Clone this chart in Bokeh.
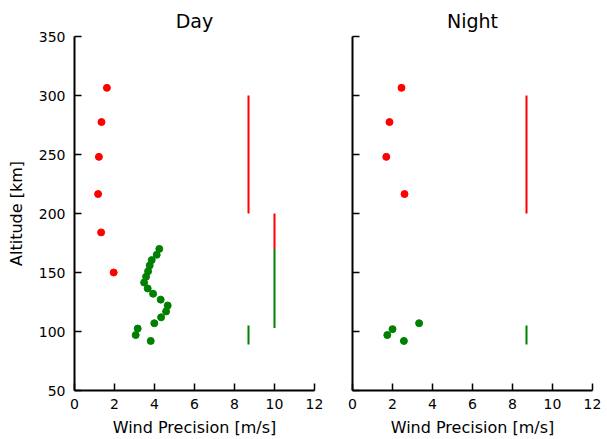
from bokeh.plotting import figure
from bokeh.layouts import row
from bokeh.models import Range1d, FixedTicker
from bokeh.embed import file_html
from bokeh.resources import INLINE

# ---- data ----
x_ticks = [0, 2, 4, 6, 8, 10, 12]
y_ticks = [50, 100, 150, 200, 250, 300, 350]

day_red_prec = [1.62, 1.35, 1.22, 1.18, 1.33, 1.96]
day_red_alt = [306.5, 277.5, 248, 216.5, 184, 150]

day_green_prec = [4.24, 4.11, 3.86, 3.76, 3.68, 3.58, 3.48, 3.66, 3.93,
                  4.31, 4.66, 4.58, 4.33, 3.99, 3.16, 3.06, 3.81]
day_green_alt = [170, 165, 160.5, 156, 151, 146.5, 141.5, 136.5, 132,
                 127, 122, 117, 112, 107, 102.5, 97, 92]

night_red_prec = [2.45, 1.85, 1.69, 2.60]
night_red_alt = [306.5, 277.5, 248, 216.5]

night_green_prec = [3.33, 2.00, 1.74, 2.57]
night_green_alt = [107, 102, 97, 92]

# requirement lines (x, bottom, top)
day_red_req_x = [8.7, 10.0]
day_red_req_lo = [200, 170]
day_red_req_hi = [300, 200]
day_green_req_x = [10.0, 8.7]
day_green_req_lo = [103, 89]
day_green_req_hi = [170, 105]

night_red_req_x = [8.7]
night_red_req_lo = [200]
night_red_req_hi = [300]
night_green_req_x = [8.7]
night_green_req_lo = [89]
night_green_req_hi = [105]

RED = "#ff0000"
GREEN = "#008000"
FONT = "DejaVu Sans"


def make_panel(title, left_border, right_border, show_ylabels):
    p = figure(
        title=title,
        x_range=Range1d(0, 12), y_range=Range1d(50, 350),
        frame_width=240, frame_height=354,
        min_border_left=left_border, min_border_right=right_border,
        min_border_top=36, min_border_bottom=49,
        output_backend="svg", toolbar_location=None,
        background_fill_color="white", border_fill_color="white",
    )
    p.outline_line_color = None
    p.grid.visible = False
    p.title.align = "center"
    p.title.text_font = FONT
    p.title.text_font_size = "19px"
    p.title.text_font_style = "normal"
    p.title.text_color = "black"
    p.title.standoff = 9

    for ax in (p.xaxis[0], p.yaxis[0]):
        ax.axis_line_width = 2
        ax.axis_line_color = "black"
        ax.major_tick_in = 7
        ax.major_tick_out = 0
        ax.major_tick_line_width = 1.5
        ax.major_tick_line_color = "black"
        ax.minor_tick_line_color = None
        ax.major_label_text_font = FONT
        ax.major_label_text_font_size = "14px"
        ax.major_label_text_color = "black"
        ax.axis_label_text_font = FONT
        ax.axis_label_text_font_size = "16px"
        ax.axis_label_text_font_style = "normal"
        ax.axis_label_text_color = "black"

    p.xaxis.ticker = FixedTicker(ticks=x_ticks)
    p.yaxis.ticker = FixedTicker(ticks=y_ticks)
    p.xaxis.axis_label = "Wind Precision [m/s]"
    p.xaxis.major_label_standoff = 8
    p.xaxis.axis_label_standoff = 6
    if show_ylabels:
        p.yaxis.axis_label = "Altitude [km]"
        p.yaxis.major_label_standoff = 9
        p.yaxis.axis_label_standoff = 10
    else:
        p.yaxis.major_label_overrides = {t: "" for t in y_ticks}
        p.yaxis.major_label_standoff = 0
    return p


p1 = make_panel("Day", 74, 12, True)
p1.segment(x0=day_red_req_x, y0=day_red_req_lo, x1=day_red_req_x, y1=day_red_req_hi,
           line_color=RED, line_width=2)
p1.segment(x0=day_green_req_x, y0=day_green_req_lo, x1=day_green_req_x, y1=day_green_req_hi,
           line_color=GREEN, line_width=2)
p1.scatter(day_red_prec, day_red_alt, size=7, color=RED)
p1.scatter(day_green_prec, day_green_alt, size=7, color=GREEN)

p2 = make_panel("Night", 26, 15, False)
p2.segment(x0=night_red_req_x, y0=night_red_req_lo, x1=night_red_req_x, y1=night_red_req_hi,
           line_color=RED, line_width=2)
p2.segment(x0=night_green_req_x, y0=night_green_req_lo, x1=night_green_req_x, y1=night_green_req_hi,
           line_color=GREEN, line_width=2)
p2.scatter(night_red_prec, night_red_alt, size=7, color=RED)
p2.scatter(night_green_prec, night_green_alt, size=7, color=GREEN)

layout = row(p1, p2)
open("out.html", "w").write(file_html(layout, INLINE))
